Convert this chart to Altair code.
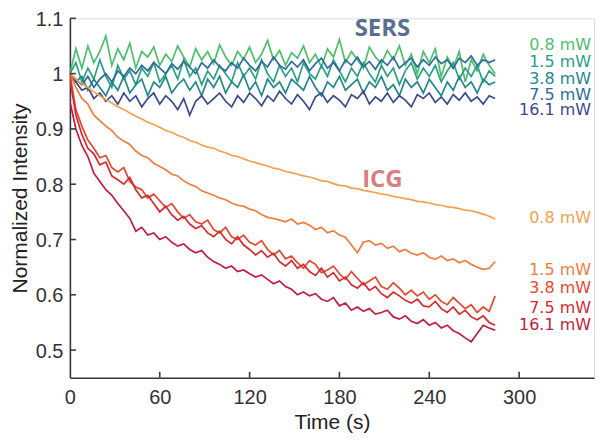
import altair as alt
import pandas as pd

# sample times (s)
time_s = list(range(0, 288, 4))  # 0 .. 284, 72 samples

# ---- SERS (normalized intensity) ----
sers_08 = [1.000, 1.045, 1.010, 1.050, 1.020, 1.040, 1.068, 1.015, 1.045, 1.025, 1.055, 1.010,
           1.040, 1.030, 1.048, 1.015, 1.035, 1.022, 1.050, 1.030, 1.012, 1.045, 1.025, 1.040,
           1.018, 1.052, 1.030, 1.015, 1.040, 1.026, 1.048, 1.020, 1.035, 1.060, 1.025, 1.042,
           1.015, 1.038, 1.028, 1.050, 1.020, 1.035, 1.012, 1.045, 1.030, 1.062, 1.020, 1.040,
           1.025, 1.010, 1.048, 1.030, 1.018, 1.042, 1.025, 1.050, 1.015, 1.035, 1.000, 1.040,
           1.020, 1.045, 0.995, 1.030, 1.010, 1.040, 0.985, 1.025, 1.005, 1.035, 1.015, 1.000]
sers_15 = [1.000, 1.020, 0.985, 1.010, 0.990, 1.025, 0.995, 0.975, 1.015, 0.990, 1.005, 0.980,
           1.010, 0.995, 1.020, 0.985, 1.000, 1.015, 0.990, 1.025, 0.995, 1.010, 0.980, 1.005,
           0.990, 1.015, 1.000, 0.985, 1.020, 0.995, 1.010, 0.990, 1.025, 1.000, 0.985, 1.015,
           0.995, 1.010, 0.985, 1.020, 1.000, 0.990, 1.015, 0.995, 1.025, 1.005, 0.985, 1.010,
           0.995, 1.020, 1.000, 0.985, 1.015, 0.995, 1.010, 0.980, 1.005, 1.020, 0.990, 1.010,
           0.995, 1.015, 0.985, 1.005, 1.020, 0.990, 1.010, 0.995, 1.015, 0.985, 1.005, 0.995]
sers_38 = [1.000, 0.985, 0.995, 0.970, 0.990, 0.975, 0.960, 0.985, 0.970, 0.995, 0.965, 0.980,
           0.990, 0.960, 0.985, 0.975, 0.995, 0.965, 0.980, 0.990, 0.970, 0.985, 0.960, 0.990,
           0.975, 0.995, 0.965, 0.985, 0.975, 0.998, 0.970, 0.985, 0.960, 0.990, 0.975, 0.985,
           0.965, 0.990, 0.980, 0.970, 0.995, 0.975, 0.960, 0.985, 0.975, 0.995, 0.970, 0.980,
           0.990, 0.965, 0.985, 0.975, 0.995, 0.970, 0.980, 0.960, 0.990, 0.975, 0.985, 0.965,
           0.990, 0.975, 0.960, 0.985, 0.970, 0.995, 0.975, 0.985, 0.965, 0.990, 0.980, 0.985]
sers_75 = [1.000, 0.990, 0.980, 0.995, 0.975, 0.990, 1.000, 0.985, 1.005, 0.995, 1.010, 1.000,
           1.015, 1.005, 1.020, 1.010, 1.000, 1.018, 1.008, 1.022, 1.012, 1.000, 1.020, 1.010,
           1.025, 1.012, 1.005, 1.020, 1.010, 1.028, 1.015, 1.005, 1.022, 1.012, 1.030, 1.015,
           1.008, 1.022, 1.012, 1.025, 1.005, 1.018, 1.028, 1.010, 1.020, 1.005, 1.025, 1.015,
           1.030, 1.012, 1.022, 1.008, 1.025, 1.015, 1.030, 1.010, 1.020, 1.028, 1.012, 1.025,
           1.015, 1.030, 1.018, 1.025, 1.010, 1.028, 1.020, 1.032, 1.015, 1.025, 1.020, 1.025]
sers_161 = [1.000, 0.985, 0.970, 0.975, 0.955, 0.965, 0.950, 0.960, 0.945, 0.965, 0.950, 0.960,
            0.940, 0.955, 0.965, 0.945, 0.960, 0.950, 0.935, 0.955, 0.925, 0.950, 0.960, 0.945,
            0.955, 0.965, 0.950, 0.940, 0.960, 0.948, 0.965, 0.955, 0.942, 0.960, 0.950, 0.968,
            0.955, 0.945, 0.962, 0.950, 0.935, 0.958, 0.965, 0.948, 0.960, 0.952, 0.940, 0.962,
            0.955, 0.968, 0.945, 0.958, 0.950, 0.965, 0.948, 0.960, 0.952, 0.940, 0.962, 0.955,
            0.965, 0.948, 0.958, 0.945, 0.962, 0.952, 0.965, 0.950, 0.958, 0.945, 0.960, 0.955]

# ---- ICG (normalized intensity) ----
icg_08 = [1.000, 0.990, 0.982, 0.975, 0.967, 0.960, 0.953, 0.947, 0.940, 0.935, 0.929, 0.923,
          0.918, 0.912, 0.908, 0.903, 0.897, 0.894, 0.888, 0.885, 0.879, 0.876, 0.871, 0.867,
          0.865, 0.860, 0.857, 0.852, 0.850, 0.846, 0.842, 0.839, 0.836, 0.833, 0.829, 0.827,
          0.823, 0.821, 0.818, 0.815, 0.813, 0.810, 0.806, 0.805, 0.801, 0.798, 0.797, 0.793,
          0.792, 0.789, 0.787, 0.785, 0.782, 0.781, 0.778, 0.776, 0.774, 0.772, 0.769, 0.768,
          0.766, 0.763, 0.762, 0.759, 0.758, 0.756, 0.753, 0.752, 0.749, 0.746, 0.742, 0.737]
icg_15 = [1.000, 0.975, 0.955, 0.945, 0.925, 0.915, 0.905, 0.897, 0.885, 0.878, 0.872, 0.860,
          0.852, 0.848, 0.838, 0.832, 0.826, 0.818, 0.815, 0.806, 0.800, 0.796, 0.788, 0.784,
          0.780, 0.775, 0.772, 0.766, 0.762, 0.760, 0.755, 0.752, 0.745, 0.740, 0.738, 0.735,
          0.732, 0.737, 0.728, 0.731, 0.726, 0.718, 0.722, 0.712, 0.716, 0.708, 0.704, 0.690,
          0.676, 0.695, 0.698, 0.690, 0.693, 0.684, 0.688, 0.678, 0.682, 0.675, 0.672, 0.676,
          0.668, 0.664, 0.670, 0.662, 0.665, 0.658, 0.662, 0.655, 0.650, 0.646, 0.648, 0.660]
icg_38 = [1.000, 0.935, 0.905, 0.880, 0.865, 0.848, 0.852, 0.830, 0.822, 0.830, 0.805, 0.795,
          0.790, 0.775, 0.782, 0.770, 0.758, 0.765, 0.750, 0.738, 0.745, 0.732, 0.728, 0.735,
          0.718, 0.712, 0.722, 0.705, 0.700, 0.708, 0.695, 0.690, 0.698, 0.682, 0.672, 0.680,
          0.665, 0.670, 0.658, 0.648, 0.662, 0.655, 0.640, 0.645, 0.652, 0.638, 0.628, 0.642,
          0.630, 0.618, 0.625, 0.632, 0.615, 0.610, 0.622, 0.612, 0.600, 0.608, 0.598, 0.605,
          0.592, 0.600, 0.588, 0.582, 0.595, 0.585, 0.575, 0.582, 0.568, 0.578, 0.570, 0.598]
icg_75 = [0.990, 0.925, 0.890, 0.865, 0.855, 0.835, 0.840, 0.815, 0.808, 0.800, 0.812, 0.790,
          0.775, 0.780, 0.765, 0.750, 0.760, 0.745, 0.735, 0.742, 0.728, 0.720, 0.725, 0.712,
          0.705, 0.715, 0.700, 0.692, 0.705, 0.690, 0.682, 0.672, 0.680, 0.668, 0.675, 0.660,
          0.652, 0.662, 0.648, 0.655, 0.642, 0.635, 0.648, 0.632, 0.640, 0.625, 0.632, 0.618,
          0.612, 0.622, 0.608, 0.615, 0.602, 0.595, 0.605, 0.598, 0.590, 0.585, 0.592, 0.580,
          0.578, 0.588, 0.575, 0.568, 0.578, 0.565, 0.572, 0.560, 0.555, 0.562, 0.550, 0.545]
icg_161 = [0.950, 0.900, 0.870, 0.850, 0.820, 0.805, 0.790, 0.780, 0.765, 0.752, 0.738, 0.715,
           0.722, 0.708, 0.712, 0.700, 0.705, 0.695, 0.688, 0.692, 0.682, 0.676, 0.680, 0.668,
           0.660, 0.655, 0.648, 0.652, 0.642, 0.645, 0.638, 0.632, 0.636, 0.628, 0.620, 0.625,
           0.615, 0.610, 0.600, 0.605, 0.598, 0.602, 0.592, 0.588, 0.595, 0.580, 0.585, 0.572,
           0.578, 0.570, 0.575, 0.565, 0.568, 0.572, 0.560, 0.556, 0.562, 0.552, 0.548, 0.555,
           0.545, 0.550, 0.540, 0.545, 0.535, 0.530, 0.522, 0.515, 0.530, 0.545, 0.540, 0.536]

power_labels = ["0.8 mW", "1.5 mW", "3.8 mW", "7.5 mW", "16.1 mW"]
sers_colors = ["#4cbf6c", "#27a182", "#21888c", "#2d6c9c", "#3b4a8e"]
icg_colors = ["#f4a04c", "#f07d3c", "#e8472f", "#d82a2e", "#c11d3c"]
sers_label_y = [1.0515, 1.021, 0.990, 0.962, 0.935]
icg_label_y = [0.739, 0.644, 0.612, 0.577, 0.545]
label_x = 348

group_titles = ["SERS", "ICG"]
group_title_x = [208.7, 208.7]
group_title_y = [1.080, 0.807]
group_title_colors = ["#5b6d92", "#da7d80"]

y_tick_values = [0.5, 0.6, 0.7, 0.8, 0.9, 1.0, 1.1]
x_tick_values = [0, 60, 120, 180, 240, 300]

# ---- build tables ----
sers_series = [sers_08, sers_15, sers_38, sers_75, sers_161]
icg_series = [icg_08, icg_15, icg_38, icg_75, icg_161]
rows = []
names, colors = [], []
for grp, series_list, cols in (("SERS", sers_series, sers_colors), ("ICG", icg_series, icg_colors)):
    for lab, vals, col in zip(power_labels, series_list, cols):
        name = f"{grp} {lab}"
        names.append(name)
        colors.append(col)
        for t, v in zip(time_s, vals):
            rows.append({"t": t, "v": v, "series": name})
lines_df = pd.DataFrame(rows)

labels_df = pd.DataFrame(
    [{"x": label_x, "y": y, "text": t, "color": c}
     for t, y, c in zip(power_labels, sers_label_y, sers_colors)]
    + [{"x": label_x, "y": y, "text": t, "color": c}
       for t, y, c in zip(power_labels, icg_label_y, icg_colors)]
)
titles_df = pd.DataFrame({"x": group_title_x, "y": group_title_y,
                          "text": group_titles, "color": group_title_colors})

ytick_df = pd.DataFrame({"y": y_tick_values, "x0": [0] * len(y_tick_values),
                         "x1": [4] * len(y_tick_values)})
xtick_df = pd.DataFrame({"x": x_tick_values[1:], "y0": [0.45] * 5, "y1": [0.4608] * 5})

xscale = alt.Scale(domain=[0, 350], nice=False, zero=False)
yscale = alt.Scale(domain=[0.45, 1.1], nice=False, zero=False)

AX = "#3a3a3a"
FONT = "Liberation Sans"

lines = alt.Chart(lines_df).mark_line(strokeWidth=1.7, clip=True).encode(
    x=alt.X("t:Q", scale=xscale, title="Time (s)",
            axis=alt.Axis(values=x_tick_values, ticks=False, grid=False, labelFlush=False,
                          domainColor=AX, domainWidth=1.6, labelFont=FONT, labelFontSize=20,
                          labelColor="#333333", labelPadding=20, labelBaseline="middle",
                          titleFont=FONT, titleFontSize=21, titleFontWeight="normal",
                          titleColor="#222222", titleBaseline="middle", titleY=45,
                          titleX=262.5)),
    y=alt.Y("v:Q", scale=yscale, title="Normalized Intensity",
            axis=alt.Axis(values=y_tick_values, format=".1~f", ticks=False, grid=False,
                          domainColor=AX, domainWidth=1.6, labelFont=FONT, labelFontSize=20,
                          labelColor="#333333", labelPadding=7, labelFlush=False,
                          labelOffset=1,
                          titleFont=FONT, titleFontSize=21, titleFontWeight="normal",
                          titleColor="#222222", titleBaseline="middle", titleAngle=-90,
                          titleX=-49, titleY=180)),
    color=alt.Color("series:N", scale=alt.Scale(domain=names, range=colors), legend=None),
    detail="series:N",
)

yticks = alt.Chart(ytick_df).mark_rule(color=AX, strokeWidth=1.6).encode(
    x=alt.X("x0:Q", scale=xscale), x2="x1:Q", y=alt.Y("y:Q", scale=yscale))
xticks = alt.Chart(xtick_df).mark_rule(color=AX, strokeWidth=1.6).encode(
    x=alt.X("x:Q", scale=xscale), y=alt.Y("y0:Q", scale=yscale), y2="y1:Q")

labels = alt.Chart(labels_df).mark_text(
    align="right", baseline="middle", font="DejaVu Sans", fontSize=16).encode(
    x=alt.X("x:Q", scale=xscale), y=alt.Y("y:Q", scale=yscale), text="text:N",
    color=alt.Color("color:N", scale=None))

titles = alt.Chart(titles_df).mark_text(
    align="center", baseline="middle", font="Open Sans", fontSize=24, fontWeight="bold").encode(
    x=alt.X("x:Q", scale=xscale), y=alt.Y("y:Q", scale=yscale), text="text:N",
    color=alt.Color("color:N", scale=None))

chart = alt.layer(lines, yticks, xticks, labels, titles).properties(
    width=525, height=360,
    padding={"left": 62, "top": 10, "right": 2, "bottom": 55},
    autosize=alt.AutoSizeParams(type="none"),
).configure_view(stroke=None).configure(background="white")

chart.save("out.html", embed_options={"renderer": "svg", "actions": False})
